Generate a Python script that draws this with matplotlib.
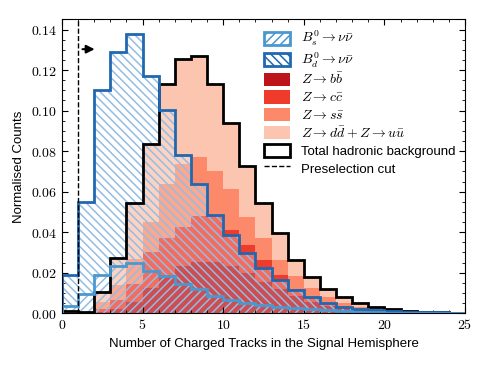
import numpy as np
import matplotlib
matplotlib.use("Agg")
import matplotlib.pyplot as plt
from matplotlib.patches import Patch, Rectangle
from matplotlib.lines import Line2D
from matplotlib.legend_handler import HandlerPatch
from matplotlib.ticker import MultipleLocator, FuncFormatter

plt.rcParams['mathtext.fontset'] = 'cm'
plt.rcParams['font.family'] = ['Liberation Sans', 'DejaVu Sans']
plt.rcParams['hatch.linewidth'] = 1.1

# bin edges: 0..25 charged tracks
edges = np.arange(26)
centers = edges[:-1] + 0.5

# signal shapes
bs_vals = [0.0037, 0.0095, 0.019, 0.0232, 0.0246, 0.021, 0.0185, 0.0145, 0.0118, 0.0084,
           0.0067, 0.0049, 0.0041, 0.0033, 0.0025, 0.0019, 0.0014, 0.001, 0.0007, 0.0005,
           0.0003, 0.0002, 0.0001, 0.0001, 0.0001]
bd_vals = [0.019, 0.055, 0.110, 0.129, 0.138, 0.117, 0.1005, 0.078, 0.064, 0.0484,
           0.0386, 0.0296, 0.0222, 0.0165, 0.0115, 0.0078, 0.005, 0.0032, 0.0021, 0.0014,
           0.001, 0.0007, 0.0005, 0.0004, 0.0003]

# Z -> qq backgrounds (stacked contributions)
zbb = [0.0001, 0.0001, 0.0006, 0.002, 0.0058, 0.0125, 0.019, 0.0232, 0.0254, 0.0254,
       0.0235, 0.0197, 0.0156, 0.0118, 0.0085, 0.0055, 0.0036, 0.0023, 0.0015, 0.0009,
       0.0005, 0.0003, 0.0002, 0.0001, 0.0001]
zcc = [0.0002, 0.0001, 0.0016, 0.0045, 0.0087, 0.0175, 0.018, 0.0193, 0.0226, 0.0226,
       0.0175, 0.014, 0.0107, 0.0071, 0.0037, 0.0023, 0.0013, 0.0008, 0.0005, 0.0003,
       0.0002, 0.0001, 0.0001, 0.0001, 0.0]
zss = [0.0002, 0.0002, 0.0033, 0.0077, 0.0125, 0.0148, 0.027, 0.031, 0.029, 0.0223,
       0.0201, 0.0139, 0.0107, 0.0074, 0.0062, 0.0045, 0.0033, 0.0019, 0.0013, 0.0007,
       0.0004, 0.0003, 0.0001, 0.0001, 0.0001]
zud = [0.0005, 0.0004, 0.005, 0.013, 0.0275, 0.0385, 0.049, 0.0522, 0.0498, 0.0427,
       0.0329, 0.0251, 0.0175, 0.0131, 0.0081, 0.0055, 0.0039, 0.0028, 0.0018, 0.0014,
       0.0009, 0.0006, 0.0004, 0.0002, 0.0001]

cut = 1

col_b = '#bc141a'
col_c = '#ef3b2c'
col_s = '#fc8a6a'
col_ud = '#fcc5af'
bs_col = '#4b98cf'
bd_col = '#2068b0'
hatch_col = '#93bde3'

fig = plt.figure(figsize=(4.88, 3.66), dpi=100)
ax = fig.add_axes([0.127, 0.144, 0.826, 0.803])

total = np.array(zbb) + np.array(zcc) + np.array(zss) + np.array(zud)
bs = np.array(bs_vals)
bd = np.array(bd_vals)

ax.hist([centers] * 4, bins=edges, weights=[zbb, zcc, zss, zud], stacked=True,
        histtype='stepfilled', color=[col_b, col_c, col_s, col_ud])

# light white wash under the signal shapes
ax.hist(centers, bins=edges, weights=bd, histtype='stepfilled', facecolor='white', alpha=0.25, lw=0)

ax.hist(centers, bins=edges, weights=total, histtype='step', color='k', lw=2)

# hatched signal shapes (Bd hatch only above the Bs shape)
ax.hist(centers, bins=edges, weights=bd - bs, bottom=bs, histtype='stepfilled', facecolor='none',
        edgecolor=hatch_col, hatch='\\\\\\\\', lw=0)
ax.hist(centers, bins=edges, weights=bs, histtype='stepfilled', facecolor='none',
        edgecolor=hatch_col, hatch='////', lw=0)
ax.hist(centers, bins=edges, weights=bd, histtype='step', color=bd_col, lw=2)
ax.hist(centers, bins=edges, weights=bs, histtype='step', color=bs_col, lw=2)

ax.axvline(cut, color='k', ls='--', lw=1)
ax.annotate('', xy=(2.2, 0.1303), xytext=(1.1, 0.1303),
            arrowprops=dict(arrowstyle='-|>', color='k', lw=1.5, mutation_scale=12))

ax.set_xlim(0, 25)
ax.set_ylim(0, 0.145)
ax.xaxis.set_major_locator(MultipleLocator(5))
ax.xaxis.set_minor_locator(MultipleLocator(1))
ax.yaxis.set_major_locator(MultipleLocator(0.02))
ax.yaxis.set_minor_locator(MultipleLocator(0.005))
ax.xaxis.set_major_formatter(FuncFormatter(lambda v, p: f'${v:.0f}$'))
ax.yaxis.set_major_formatter(FuncFormatter(lambda v, p: f'${v:.2f}$'))
ax.tick_params(which='both', direction='in', top=True, right=True, labelsize=10)
ax.tick_params(which='major', length=4.5)
ax.tick_params(which='minor', length=2.5)

ax.set_xlabel('Number of Charged Tracks in the Signal Hemisphere', fontsize=9.5)
ax.set_ylabel('Normalised Counts', fontsize=9.5)


# legend boxes a bit shorter than the row height
def small_box(legend, orig_handle, xdescent, ydescent, width, height, fontsize):
    hh = 9.5
    return Rectangle((-xdescent, -ydescent + (height - hh) / 2), width, hh)


handles = [
    Patch(facecolor='white', edgecolor=bs_col, hatch='////', lw=2, label=r'$B_s^0\rightarrow\nu\bar{\nu}$'),
    Patch(facecolor='white', edgecolor=bd_col, hatch='\\\\\\\\', lw=2, label=r'$B_d^0\rightarrow\nu\bar{\nu}$'),
    Patch(facecolor=col_b, label=r'$Z\rightarrow b\bar{b}$'),
    Patch(facecolor=col_c, label=r'$Z\rightarrow c\bar{c}$'),
    Patch(facecolor=col_s, label=r'$Z\rightarrow s\bar{s}$'),
    Patch(facecolor=col_ud, label=r'$Z\rightarrow d\bar{d} + Z\rightarrow u\bar{u}$'),
    Patch(facecolor='white', edgecolor='k', lw=2, label='Total hadronic background'),
    Line2D([], [], color='k', ls='--', lw=1, label='Preselection cut'),
]
leg = ax.legend(handles=handles, loc='upper right', frameon=False, fontsize=9.5,
                handlelength=2.0, handleheight=1.45, labelspacing=0.15, borderaxespad=0.35,
                handler_map={Patch: HandlerPatch(patch_func=small_box)})
for t in leg.get_texts():
    if t.get_text().startswith('$'):
        t.set_fontsize(10)

fig.savefig('out.png', dpi=100)
